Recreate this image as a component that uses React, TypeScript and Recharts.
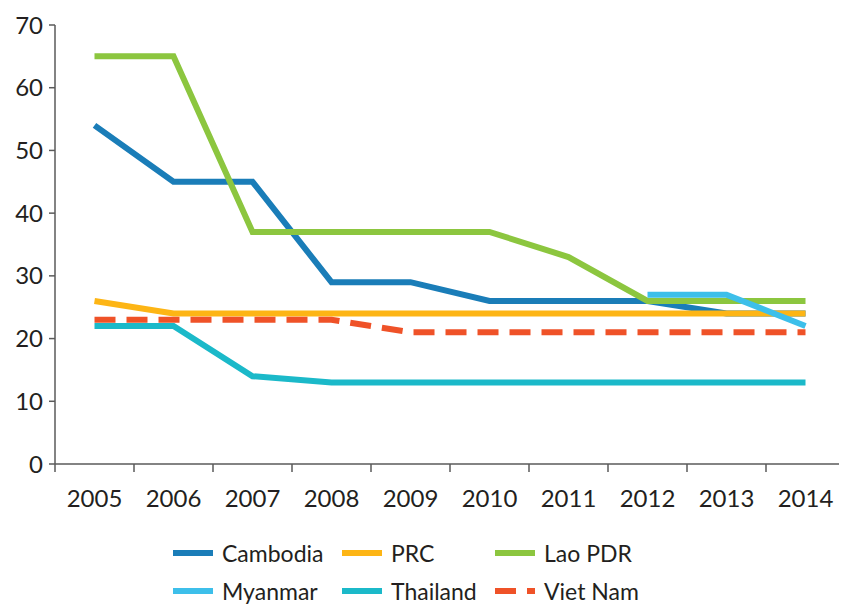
import { LineChart, Line, XAxis, YAxis, Legend } from "recharts";

// Values (index = year)
const YEARS = ["2005", "2006", "2007", "2008", "2009", "2010", "2011", "2012", "2013", "2014"];
const CAMBODIA = [54, 45, 45, 29, 29, 26, 26, 26, 24, 24];
const PRC = [26, 24, 24, 24, 24, 24, 24, 24, 24, 24];
const LAO = [65, 65, 37, 37, 37, 37, 33, 26, 26, 26];
const MYANMAR = [null, null, null, null, null, null, null, 27, 27, 22];
const THAILAND = [22, 22, 14, 13, 13, 13, 13, 13, 13, 13];
const VIETNAM = [23, 23, 23, 23, 21, 21, 21, 21, 21, 21];
const Y_TICKS = [0, 10, 20, 30, 40, 50, 60, 70];

const FONT = "Lato, 'Open Sans', sans-serif";
const TEXT = "#231f20";
const AXIS = "#5a5a5a";
const HALF_BAND = 39.5;

const SERIES = [
  { key: "Cambodia", color: "#1a7db8", dashed: false },
  { key: "PRC", color: "#fdb515", dashed: false },
  { key: "Lao PDR", color: "#8cc63f", dashed: false },
  { key: "Myanmar", color: "#3dbfea", dashed: false },
  { key: "Thailand", color: "#1bb9c9", dashed: false },
  { key: "Viet Nam", color: "#ef5228", dashed: true },
];
// drawing order (later on top)
const DRAW_ORDER = ["Cambodia", "PRC", "Lao PDR", "Thailand", "Viet Nam", "Myanmar"];

const data = YEARS.map((year, i) => ({
  year,
  Cambodia: CAMBODIA[i],
  PRC: PRC[i],
  "Lao PDR": LAO[i],
  Myanmar: MYANMAR[i],
  Thailand: THAILAND[i],
  "Viet Nam": VIETNAM[i],
}));

function YearTick(props: any) {
  const { x, y, payload, index } = props;
  const last = index === YEARS.length - 1;
  return (
    <g>
      <line x1={x - HALF_BAND} y1={y - 8} x2={x - HALF_BAND} y2={y} stroke={AXIS} strokeWidth={1.5} />
      {last && <line x1={x + HALF_BAND} y1={y - 8} x2={x + HALF_BAND} y2={y} stroke={AXIS} strokeWidth={1.5} />}
      <text x={x} y={y + 25} textAnchor="middle" dominantBaseline="central" fontSize={24} fill={TEXT} fontFamily={FONT}>
        {payload.value}
      </text>
    </g>
  );
}

// legend grid: 3 columns x 2 rows, positions relative to the legend box
const LEGEND_COLS = [165, 334, 487];
const LEGEND_ROWS = [29, 67];

function ChartLegend() {
  return (
    <div style={{ position: "relative", width: 839, height: 82 }}>
      {SERIES.map((s, i) => {
        const left = LEGEND_COLS[i % 3];
        const top = LEGEND_ROWS[Math.floor(i / 3)];
        return (
          <div key={s.key} style={{ position: "absolute", left, top: top - 15, height: 30, display: "flex", alignItems: "center" }}>
            <svg width={40} height={8} style={{ display: "block" }}>
              <line x1={0} y1={4} x2={40} y2={4} stroke={s.color} strokeWidth={6} strokeDasharray={s.dashed ? "21 11" : undefined} />
            </svg>
            <span style={{ marginLeft: 9, fontSize: 23, color: TEXT, fontFamily: FONT, whiteSpace: "nowrap" }}>{s.key}</span>
          </div>
        );
      })}
    </div>
  );
}

export default function App() {
  return (
    <LineChart width={839} height={598} data={data} margin={{ top: 17, right: 2, bottom: 0, left: 0 }}>
      <XAxis
        dataKey="year"
        padding={{ left: HALF_BAND, right: HALF_BAND }}
        height={60}
        tickLine={false}
        axisLine={{ stroke: AXIS, strokeWidth: 1.5 }}
        tick={<YearTick />}
        interval={0}
      />
      <YAxis
        width={47}
        domain={[0, 70]}
        ticks={Y_TICKS}
        tickSize={6}
        tickMargin={6}
        tickLine={{ stroke: AXIS, strokeWidth: 1.5 }}
        axisLine={{ stroke: AXIS, strokeWidth: 1.5 }}
        tick={{ fontSize: 24, fill: TEXT, fontFamily: FONT }}
      />
      <Legend verticalAlign="bottom" height={82} content={<ChartLegend />} wrapperStyle={{ left: 0, width: 839 }} />
      {DRAW_ORDER.map((k) => {
        const s = SERIES.find((x) => x.key === k)!;
        return (
          <Line
            key={k}
            dataKey={k}
            type="linear"
            stroke={s.color}
            strokeWidth={6}
            strokeDasharray={s.dashed ? "21 11" : undefined}
            strokeLinejoin="miter"
            dot={false}
            activeDot={false}
            isAnimationActive={false}
            connectNulls={false}
          />
        );
      })}
    </LineChart>
  );
}
